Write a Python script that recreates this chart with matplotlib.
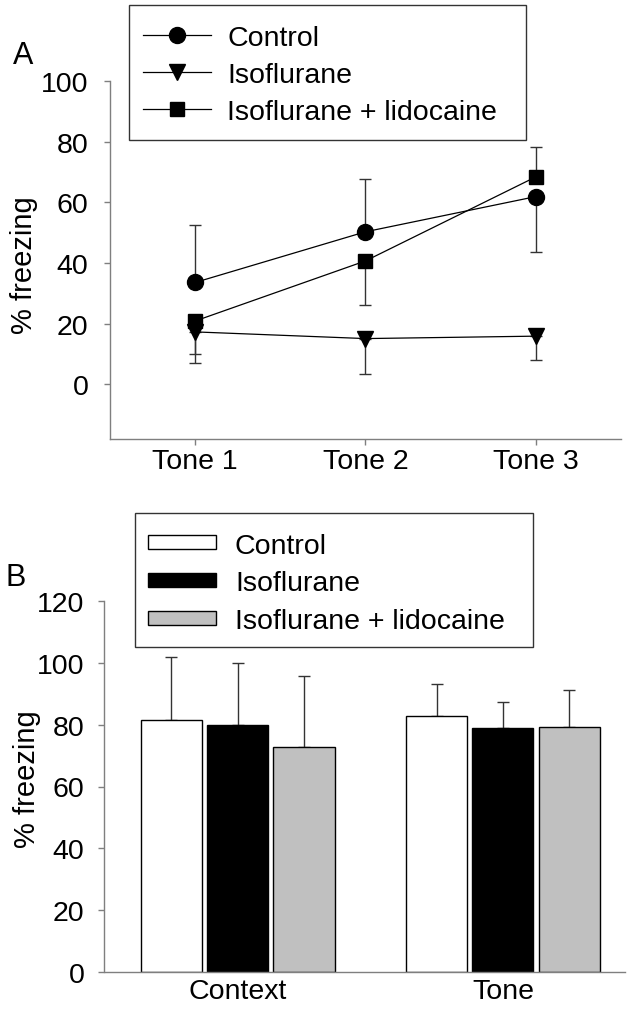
import matplotlib
matplotlib.use("Agg")
import matplotlib.pyplot as plt
from matplotlib.patches import Rectangle
import numpy as np

plt.rcParams["font.family"] = ["Liberation Sans", "DejaVu Sans"]

# panel A: freezing during tones
tones = ["Tone 1", "Tone 2", "Tone 3"]
control_vals = [33.6, 50.3, 61.9]
control_lo = [0, 0, 18.1]
control_hi = [19.0, 17.4, 0]
iso_vals = [17.3, 15.1, 15.9]
iso_lo = [10.1, 11.6, 7.7]
iso_hi = [0, 0, 0]
lido_vals = [20.9, 40.7, 68.4]
lido_lo = [10.8, 14.6, 0]
lido_hi = [0, 0, 9.9]

# panel B: context / tone test
tests = ["Context", "Tone"]
bar_control = [81.6, 82.9]
bar_control_err = [20.3, 10.1]
bar_iso = [80.0, 78.9]
bar_iso_err = [20.0, 8.5]
bar_lido = [72.9, 79.3]
bar_lido_err = [22.8, 11.9]

W, H = 644, 1012
fig = plt.figure(figsize=(W / 100, H / 100), dpi=100)

AX_COL = "#7f7f7f"
FS = 20.5
LFS = 21


def px(x, y):
    # pixel (from top-left) -> figure fraction
    return x / W, 1 - y / H


def style_axes(ax):
    for s in ["top", "right"]:
        ax.spines[s].set_visible(False)
    for s in ["left", "bottom"]:
        ax.spines[s].set_color(AX_COL)
        ax.spines[s].set_linewidth(1.0)
    ax.tick_params(colors=AX_COL, labelcolor="black", labelsize=FS, width=1.0, length=4.5)


def frame_box(x0, y0, x1, y1):
    fig.patches.append(Rectangle(px(x0, y1), (x1 - x0) / W, (y1 - y0) / H,
                                 transform=fig.transFigure, fill=False,
                                 edgecolor="#333333", lw=1.0))


# ---- A ----
axA = fig.add_axes([110 / W, 1 - 440 / H, (621 - 110) / W, (440 - 82) / H])
style_axes(axA)
x = np.arange(1, 4)
series = [
    (control_vals, control_lo, control_hi, "o", 11.5, "Control"),
    (iso_vals, iso_lo, iso_hi, "v", 11.5, "Isoflurane"),
    (lido_vals, lido_lo, lido_hi, "s", 9.5, "Isoflurane + lidocaine"),
]
handles = []
for vals, lo, hi, mk, ms, lab in series:
    axA.errorbar(x, vals, yerr=[lo, hi], fmt="none", ecolor="#333333",
                 elinewidth=1.0, capsize=4.5, capthick=1.0, zorder=2)
    h, = axA.plot(x, vals, color="black", lw=0.9, marker=mk, ms=ms,
                  mfc="black", mec="black", label=lab, zorder=3)
    handles.append(h)
axA.set_xlim(0.5, 3.5)
axA.set_ylim(-18, 100)
axA.set_xticks(x)
axA.set_xticklabels(tones)
axA.set_yticks([0, 20, 40, 60, 80, 100])
axA.tick_params(axis="y", pad=11)
axA.tick_params(axis="x", pad=2)
axA.set_ylabel("% freezing", fontsize=LFS)
axA.yaxis.set_label_coords((38 - 110) / (621 - 110), (440 - 265) / (440 - 82))
fig.legend(handles=handles, loc="upper left",
           bbox_to_anchor=px(142.6, 25.5), bbox_transform=fig.transFigure,
           fontsize=FS, frameon=False, handlelength=2.4, handletextpad=0.58,
           labelspacing=0.39, borderpad=0, borderaxespad=0)
frame_box(128.7, 6, 526, 141)
fig.text(*px(13, 64), "A", fontsize=22)

# ---- B ----
axB = fig.add_axes([104.5 / W, 1 - 973.3 / H, (625 - 104.5) / W, (973.3 - 601.7) / H])
style_axes(axB)
xb = np.arange(len(tests))
bw = 0.23
step = 0.25
bar_series = [
    (bar_control, bar_control_err, "white", "Control"),
    (bar_iso, bar_iso_err, "black", "Isoflurane"),
    (bar_lido, bar_lido_err, "#c0c0c0", "Isoflurane + lidocaine"),
]
bhandles = []
for i, (vals, err, col, lab) in enumerate(bar_series):
    pos = xb + (i - 1) * step
    b = axB.bar(pos, vals, width=bw, color=col, edgecolor="black", linewidth=1.0,
                label=lab, zorder=2)
    axB.errorbar(pos, vals, yerr=[np.zeros(len(err)), err], fmt="none",
                 ecolor="#333333", elinewidth=1.0, capsize=4, capthick=1.0, zorder=1)
    bhandles.append(b)
axB.set_xlim(-0.502, 1.46)
axB.set_ylim(0, 120)
axB.set_xticks(xb)
axB.set_xticklabels(tests)
axB.set_yticks(np.arange(0, 121, 20))
axB.tick_params(axis="x", length=0, pad=4)
axB.tick_params(axis="y", pad=10)
axB.set_ylabel("% freezing", fontsize=LFS)
axB.yaxis.set_label_coords((41 - 104.5) / (625 - 104.5), (973.3 - 779) / (973.3 - 601.7))
fig.legend(handles=bhandles, loc="upper left",
           bbox_to_anchor=px(147.5, 533.5), bbox_transform=fig.transFigure,
           fontsize=FS, frameon=False, handlelength=2.42, handleheight=0.375,
           handletextpad=0.65, labelspacing=0.41, borderpad=0, borderaxespad=0)
frame_box(135, 514, 533, 648)
fig.text(*px(5, 586), "B", fontsize=22)

fig.savefig("out.png", dpi=100)
